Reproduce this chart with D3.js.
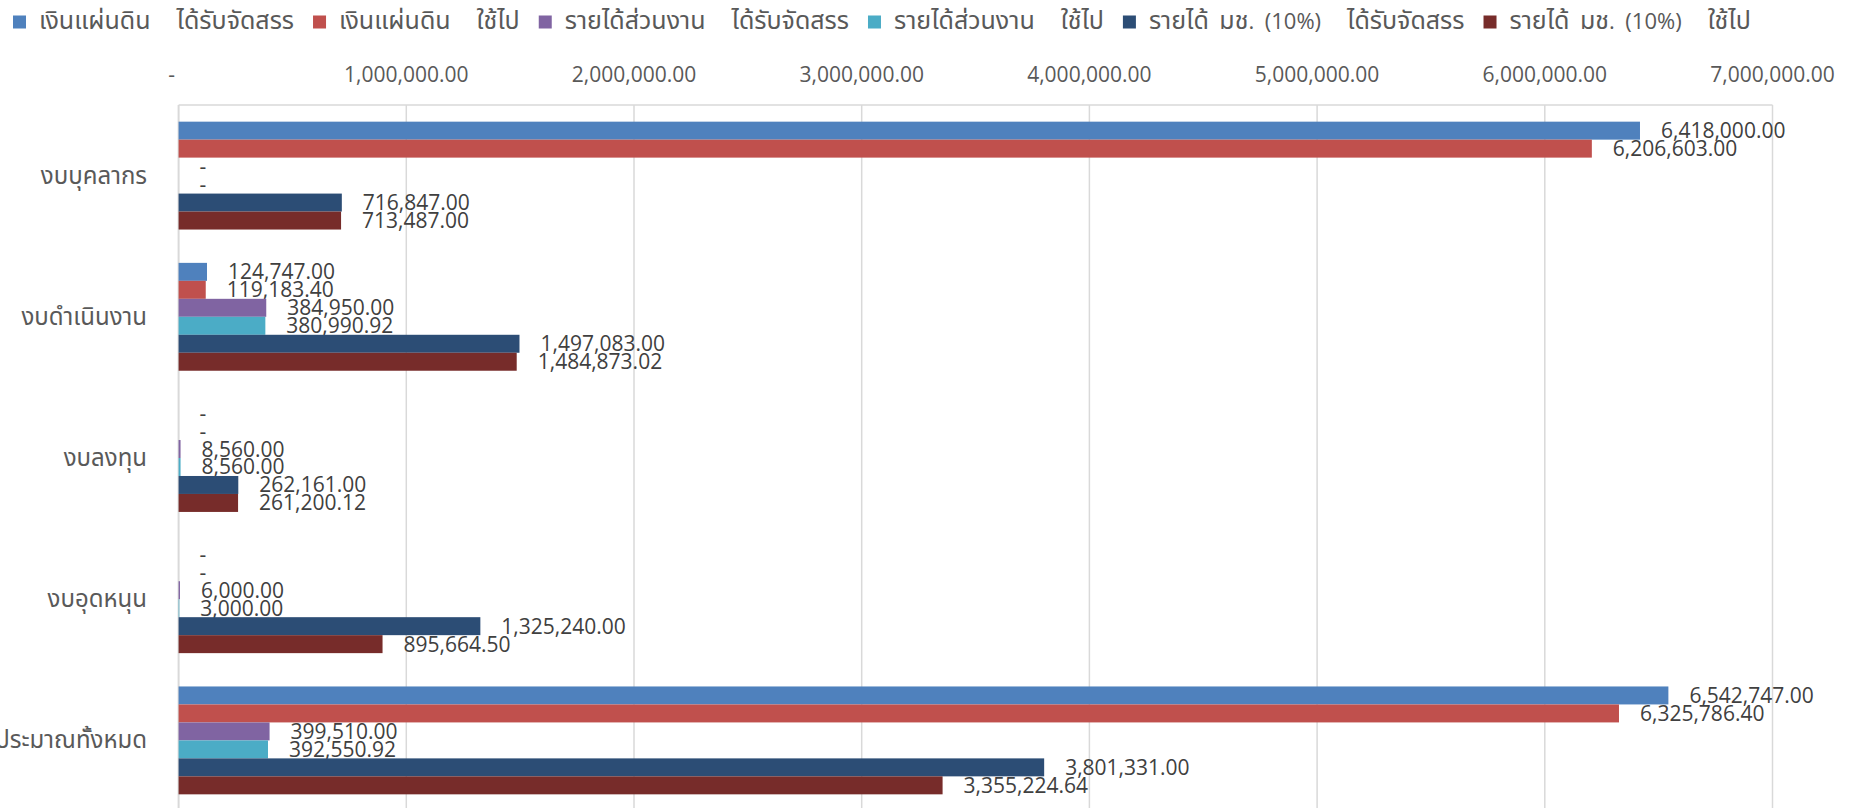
<!DOCTYPE html>
<html>
<head>
<meta charset="utf-8">
<script src="https://cdn.jsdelivr.net/npm/d3@7"></script>
<style>
    body { margin: 0; background: #fff; }
    svg { display: block; font-family: 'Open Sans', 'Noto Sans Thai', 'Leelawadee UI', Tahoma, sans-serif; }
</style>
</head>
<body>
<div id="chart1"></div>
<script>
// categories (top to bottom)
let categories = ["งบบุคลากร", "งบดำเนินงาน", "งบลงทุน", "งบอุดหนุน", "งบประมาณทั้งหมด"];

// series names, as in the legend (fund / status)
let seriesFunds = ["เงินแผ่นดิน", "เงินแผ่นดิน", "รายได้ส่วนงาน", "รายได้ส่วนงาน", "รายได้ มช. (10%)", "รายได้ มช. (10%)"];
let seriesStatus = ["ได้รับจัดสรร", "ใช้ไป", "ได้รับจัดสรร", "ใช้ไป", "ได้รับจัดสรร", "ใช้ไป"];
let seriesColors = ["#4f81bd", "#c0504d", "#8064a2", "#4bacc6", "#2c4d75", "#772c2a"];

// values per series, one per category
let govAllocated = [6418000, 124747, 0, 0, 6542747];
let govSpent = [6206603, 119183.40, 0, 0, 6325786.40];
let unitAllocated = [0, 384950, 8560, 6000, 399510];
let unitSpent = [0, 380990.92, 8560, 3000, 392550.92];
let cmuAllocated = [716847, 1497083, 262161, 1325240, 3801331];
let cmuSpent = [713487, 1484873.02, 261200.12, 895664.50, 3355224.64];

let tickValues = [0, 1000000, 2000000, 3000000, 4000000, 5000000, 6000000, 7000000];

let seriesValues = [govAllocated, govSpent, unitAllocated, unitSpent, cmuAllocated, cmuSpent];

barchart('#chart1');

// thai runs (and spaces) get a bigger size than latin runs
function mixedText(sel, str, thaiSize, latinSize) {
    str.split(/([\x21-\x7E]+)/).filter(p => p.length).forEach(function (p) {
        sel.append("tspan")
            .style("font-size", /[\x21-\x7E]/.test(p) ? latinSize : thaiSize)
            .text(p);
    });
}

function barchart(selector) {
    let width = 1855, height = 808;
    let plot = { left: 178.6, right: 1772.5, top: 105, bottom: 811 };

    let svg = d3.select(selector)
        .append("svg")
        .attr("width", width)
        .attr("height", height);

    let x = d3.scaleLinear()
        .domain([0, 7000000])
        .range([plot.left, plot.right]);

    let y = d3.scaleBand()
        .domain(categories)
        .range([plot.top, plot.bottom])
        .paddingInner(0.236)
        .paddingOuter(0.118);

    let ySub = d3.scaleBand()
        .domain(d3.range(seriesFunds.length))
        .range([0, y.bandwidth()]);

    let fmt = d3.format(",.2f");
    let label = v => v === 0 ? "-" : fmt(v);

    // gridlines
    svg.append("g")
        .selectAll("line")
        .data(tickValues)
        .enter()
        .append("line")
        .attr("x1", d => x(d))
        .attr("x2", d => x(d))
        .attr("y1", plot.top)
        .attr("y2", plot.bottom)
        .attr("stroke", "#d9d9d9")
        .attr("stroke-width", d => d === 0 ? 2 : 1.5);

    svg.append("line")
        .attr("x1", x(0))
        .attr("x2", x(7000000))
        .attr("y1", plot.top)
        .attr("y2", plot.top)
        .attr("stroke", "#d9d9d9")
        .attr("stroke-width", 1.5);

    // top value axis labels
    svg.append("g")
        .selectAll("text")
        .data(tickValues)
        .enter()
        .append("text")
        .attr("x", d => d === 0 ? x(d) - 7 : x(d))
        .attr("y", 82)
        .attr("text-anchor", "middle")
        .attr("fill", "#595959")
        .style("font-size", "21px")
        .text(d => label(d));

    // category labels
    svg.append("g")
        .selectAll("text")
        .data(categories)
        .enter()
        .append("text")
        .attr("x", 147)
        .attr("y", d => y(d) + y.bandwidth() / 2 + 8)
        .attr("text-anchor", "end")
        .attr("fill", "#595959")
        .style("font-size", "24px")
        .text(d => d);

    // bars and data labels
    seriesValues.forEach(function (vals, s) {
        let g = svg.append("g");
        g.selectAll("rect")
            .data(vals)
            .enter()
            .append("rect")
            .attr("x", x(0))
            .attr("y", (d, i) => y(categories[i]) + ySub(s))
            .attr("width", d => x(d) - x(0))
            .attr("height", ySub.bandwidth())
            .attr("fill", seriesColors[s]);

        g.selectAll("text")
            .data(vals)
            .enter()
            .append("text")
            .attr("x", d => x(d) + 21)
            .attr("y", (d, i) => y(categories[i]) + ySub(s) + ySub.bandwidth() / 2 + 7.5)
            .attr("fill", "#404040")
            .style("font-size", "21px")
            .text(d => label(d));
    });

    // legend
    let legend = svg.append("g");
    let lx = 13;
    seriesFunds.forEach(function (fund, s) {
        legend.append("rect")
            .attr("x", lx)
            .attr("y", 15.5)
            .attr("width", 13)
            .attr("height", 13)
            .attr("fill", seriesColors[s]);
        let t = legend.append("text")
            .attr("x", lx + 26)
            .attr("y", 29)
            .attr("fill", "#595959")
            .style("white-space", "pre")
            .style("word-spacing", "4px");
        mixedText(t, fund, "25px", "22px");
        let w1 = t.node().getComputedTextLength();
        let t2 = legend.append("text")
            .attr("x", lx + 26 + w1 + 26)
            .attr("y", 29)
            .attr("fill", "#595959");
        mixedText(t2, seriesStatus[s], "25px", "22px");
        lx += 26 + w1 + 26 + t2.node().getComputedTextLength() + 19;
    });
}
</script>
</body>
</html>
